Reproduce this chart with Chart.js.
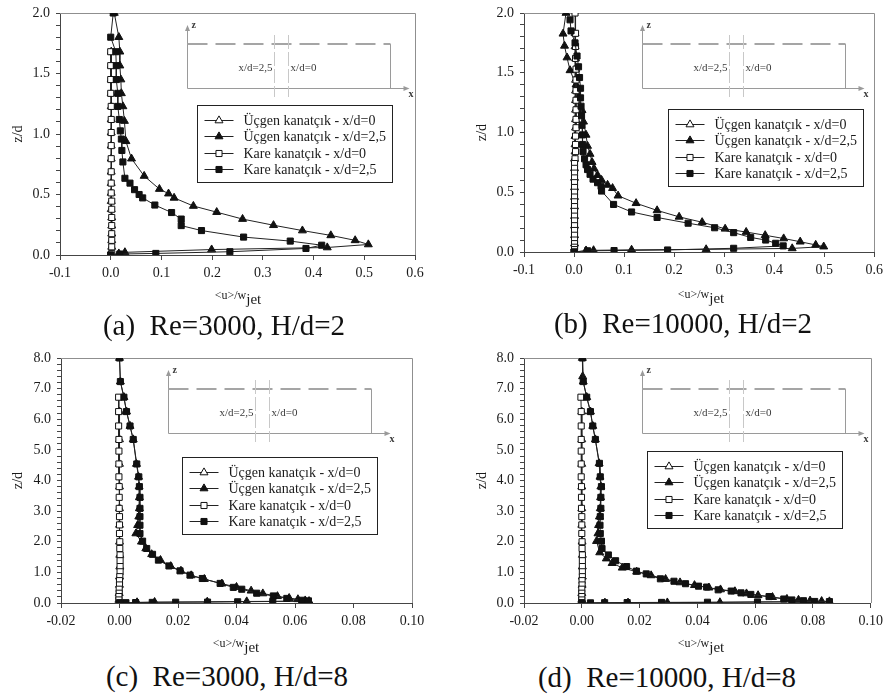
<!DOCTYPE html>
<html><head><meta charset="utf-8">
<script src="https://cdn.jsdelivr.net/npm/chart.js@4.4.1/dist/chart.umd.min.js"></script>
<style>
html,body{margin:0;padding:0;background:#fff;}
body{width:889px;height:695px;position:relative;overflow:hidden;font-family:"Liberation Serif","Times New Roman",serif;}
canvas{position:absolute;}
.cap{position:absolute;font-size:29px;color:#111;white-space:pre;transform:translateX(-50%);line-height:1;}
.xt{position:absolute;font-size:12px;color:#1a1a1a;transform:translateX(-50%);white-space:nowrap;line-height:16px;}
.xt sub{font-size:15px;vertical-align:-5px;line-height:0;}
</style></head><body>
<canvas id="ca" width="440" height="290" style="left:0;top:0"></canvas>
<canvas id="cb" width="449" height="290" style="left:440px;top:0"></canvas>
<canvas id="cc" width="440" height="300" style="left:0;top:340px"></canvas>
<canvas id="cd" width="449" height="300" style="left:440px;top:340px"></canvas>
<div class="xt" style="left:238px;top:287px">&lt;u&gt;/w<sub>jet</sub></div>
<div class="xt" style="left:701px;top:286px">&lt;u&gt;/w<sub>jet</sub></div>
<div class="xt" style="left:236px;top:635px">&lt;u&gt;/w<sub>jet</sub></div>
<div class="xt" style="left:701px;top:635px">&lt;u&gt;/w<sub>jet</sub></div>
<div class="cap" id="capa" style="left:224px;top:311px"></div>
<div class="cap" id="capb" style="left:683px;top:309px"></div>
<div class="cap" id="capc" style="left:227px;top:662px"></div>
<div class="cap" id="capd" style="left:667px;top:663px"></div>
<script>
// ---------- labels ----------
const seriesNames = ['Üçgen kanatçık - x/d=0','Üçgen kanatçık - x/d=2,5','Kare kanatçık - x/d=0','Kare kanatçık - x/d=2,5'];
const captions = ['(a)  Re=3000, H/d=2','(b)  Re=10000, H/d=2','(c)  Re=3000, H/d=8','(d)  Re=10000, H/d=8'];
const xTitle = '<u>/wjet';
const yTitle = 'z/d';
const abXTickLabels = ['-0.1','0.0','0.1','0.2','0.3','0.4','0.5','0.6'];
const abYTickLabels = ['0.0','0.5','1.0','1.5','2.0'];
const cdXTickLabels = ['-0.02','0.00','0.02','0.04','0.06','0.08','0.10'];
const cdYTickLabels = ['0.0','1.0','2.0','3.0','4.0','5.0','6.0','7.0','8.0'];

// ---------- data: [u/wjet, z/d] ----------
// (a) Re=3000, H/d=2
const aTri0 = [[0.001,1.68],[0.001,1.565],[0.001,1.45],[0.001,1.336],[0.001,1.228],[0.001,1.12],[0.001,1.012],[0.001,0.904],[0.001,0.796],[0.001,0.688],[0.001,0.594],[0.001,0.513],[0.001,0.445],[0.001,0.378],[0.002,0.31],[0.002,0.243],[0.002,0.176],[0.002,0.121],[0.002,0.067],[0.001,0.013],[0.0,0.0]];
const aTri25 = [[0.007,2.0],[0.016,1.80],[0.018,1.68],[0.018,1.565],[0.020,1.45],[0.021,1.336],[0.024,1.228],[0.027,1.107],[0.030,0.94],[0.041,0.796],[0.066,0.653],[0.096,0.545],[0.114,0.507],[0.125,0.472],[0.163,0.405],[0.209,0.354],[0.260,0.297],[0.321,0.246],[0.378,0.202],[0.434,0.162],[0.482,0.121],[0.508,0.087],[0.427,0.062],[0.199,0.045],[0.028,0.022],[0.016,0.012],[0.0,0.0]];
const aSq0 = [[0.0,1.68],[0.0,1.565],[0.0,1.45],[0.0,1.336],[0.001,1.228],[0.001,1.12],[0.001,1.012],[0.001,0.904],[0.001,0.796],[0.001,0.688],[0.001,0.594],[0.001,0.513],[0.002,0.445],[0.002,0.378],[0.002,0.31],[0.002,0.243],[0.002,0.176],[0.002,0.121],[0.002,0.067],[0.002,0.013],[0.0,0.0]];
const aSq25 = [[0.005,2.0],[0.0,1.80],[0.010,1.68],[0.011,1.565],[0.011,1.45],[0.014,1.336],[0.014,1.228],[0.017,1.12],[0.019,1.026],[0.021,0.958],[0.022,0.864],[0.024,0.769],[0.028,0.634],[0.038,0.594],[0.047,0.540],[0.056,0.50],[0.063,0.472],[0.087,0.413],[0.120,0.351],[0.139,0.297],[0.139,0.243],[0.179,0.202],[0.262,0.148],[0.354,0.115],[0.416,0.081],[0.385,0.054],[0.235,0.027],[0.089,0.013],[0.018,0.008],[0.0,0.0]];
// (b) Re=10000, H/d=2
const bTri0 = [[0.002,1.83],[0.002,1.72],[0.003,1.62],[0.003,1.53],[0.003,1.44],[0.003,1.35],[0.003,1.27],[0.003,1.19],[0.003,1.11],[0.003,1.04],[0.002,0.97],[0.002,0.90],[0.002,0.84],[0.001,0.78],[0.001,0.70],[0.001,0.62],[0.001,0.54],[0.001,0.46],[0.001,0.38],[0.001,0.30],[0.001,0.22],[0.001,0.14],[0.001,0.07],[0.0,0.0]];
const bTri25 = [[-0.016,2.0],[-0.022,1.826],[-0.019,1.725],[-0.014,1.627],[-0.008,1.52],[0.004,1.40],[0.010,1.30],[0.016,1.186],[0.019,1.09],[0.024,0.98],[0.027,0.887],[0.032,0.82],[0.036,0.752],[0.040,0.698],[0.047,0.643],[0.055,0.602],[0.067,0.561],[0.077,0.534],[0.088,0.471],[0.124,0.408],[0.166,0.348],[0.210,0.294],[0.256,0.249],[0.302,0.194],[0.344,0.167],[0.382,0.140],[0.419,0.113],[0.452,0.086],[0.483,0.059],[0.499,0.045],[0.436,0.030],[0.264,0.022],[0.115,0.018],[0.039,0.014],[0.024,0.012],[0.0,0.0]];
const bSq0 = [[0.002,2.0],[0.003,1.83],[0.003,1.72],[0.003,1.62],[0.004,1.53],[0.004,1.44],[0.004,1.35],[0.004,1.27],[0.004,1.19],[0.004,1.11],[0.004,1.04],[0.003,0.97],[0.003,0.90],[0.003,0.84],[0.002,0.78],[0.001,0.74],[0.001,0.70],[0.001,0.66],[0.001,0.62],[0.001,0.58],[0.001,0.54],[0.001,0.50],[0.001,0.46],[0.001,0.42],[0.001,0.38],[0.001,0.34],[0.001,0.30],[0.001,0.26],[0.001,0.22],[0.001,0.18],[0.001,0.14],[0.001,0.10],[0.001,0.07],[0.001,0.04],[0.001,0.02],[0.0,0.0]];
const bSq25 = [[-0.008,1.943],[-0.006,1.85],[0.002,1.75],[0.006,1.64],[0.009,1.55],[0.011,1.46],[0.013,1.37],[0.013,1.29],[0.014,1.22],[0.015,1.14],[0.016,1.06],[0.017,0.98],[0.017,0.90],[0.018,0.84],[0.021,0.78],[0.024,0.73],[0.027,0.69],[0.032,0.65],[0.038,0.61],[0.047,0.58],[0.054,0.55],[0.055,0.51],[0.079,0.398],[0.115,0.335],[0.166,0.289],[0.228,0.241],[0.281,0.203],[0.319,0.162],[0.353,0.122],[0.383,0.10],[0.403,0.073],[0.418,0.051],[0.319,0.031],[0.187,0.017],[0.080,0.012],[0.027,0.010],[0.0,0.0]];
// (c) Re=3000, H/d=8
const cTri0 = [[0.0,6.25],[0.0,5.34],[0.0,4.54],[0.0,3.80],[0.0,3.09],[0.0,2.55],[0.0,2.00],[0.0001,1.57],[0.0001,1.19],[0.0,0.86],[0.0,0.59],[-0.0001,0.32],[-0.0002,0.10],[0.0,0.0]];
const cTri25 = [[0.0,8.0],[0.0003,7.23],[0.0015,6.72],[0.0024,6.25],[0.0036,5.78],[0.0047,5.34],[0.0058,4.54],[0.0065,4.12],[0.0067,3.80],[0.0068,3.45],[0.0068,3.09],[0.0066,2.82],[0.0062,2.54],[0.0056,2.27],[0.0075,2.0],[0.009,1.78],[0.011,1.59],[0.014,1.40],[0.0175,1.20],[0.021,1.05],[0.0245,0.90],[0.029,0.78],[0.035,0.63],[0.040,0.52],[0.045,0.40],[0.049,0.31],[0.054,0.22],[0.058,0.16],[0.061,0.12],[0.0635,0.08],[0.0648,0.06],[0.0435,0.05],[0.030,0.04],[0.012,0.03],[0.006,0.02],[0.0,0.0]];
const cSq0 = [[-0.0003,6.72],[-0.0003,6.25],[-0.0003,5.78],[-0.0002,5.34],[-0.0002,4.96],[-0.0002,4.54],[-0.0002,4.12],[-0.0001,3.80],[-0.0001,3.45],[-0.0001,3.09],[0.0,2.82],[0.0,2.55],[0.0,2.27],[0.0001,2.00],[0.0001,1.78],[0.0002,1.57],[0.0002,1.38],[0.0002,1.19],[0.0002,1.02],[0.0001,0.86],[0.0,0.73],[0.0,0.59],[-0.0001,0.45],[-0.0001,0.32],[-0.0002,0.21],[-0.0002,0.10],[0.0,0.01]];
const cSq25 = [[0.0,8.0],[0.0003,7.23],[0.0015,6.72],[0.0024,6.25],[0.0036,5.78],[0.0047,5.34],[0.0059,4.54],[0.0066,4.12],[0.0068,3.80],[0.007,3.45],[0.007,3.09],[0.007,2.82],[0.007,2.54],[0.007,2.27],[0.0079,2.02],[0.0093,1.78],[0.0113,1.59],[0.0133,1.40],[0.0169,1.21],[0.0207,1.05],[0.0241,0.91],[0.0283,0.80],[0.0344,0.64],[0.0389,0.51],[0.0418,0.45],[0.0469,0.32],[0.0526,0.23],[0.0572,0.15],[0.0623,0.09],[0.0646,0.07],[0.0524,0.05],[0.0404,0.04],[0.0301,0.03],[0.0192,0.025],[0.0112,0.02],[0.0055,0.015],[0.0022,0.01],[0.0,0.0]];
// (d) Re=10000, H/d=8
const dTri0 = [[0.0,6.25],[0.0,5.34],[0.0,4.54],[0.0,3.80],[0.0,3.09],[0.0,2.55],[0.0001,2.00],[0.0002,1.57],[0.0002,1.19],[0.0002,0.86],[0.0001,0.59],[0.0,0.32],[0.0,0.10],[0.0,0.0]];
const dTri25 = [[0.0002,8.0],[0.0003,7.4],[0.0005,7.23],[0.0017,6.72],[0.003,6.25],[0.0038,5.78],[0.0047,5.34],[0.006,4.56],[0.0063,4.12],[0.0066,3.80],[0.0065,3.45],[0.0064,3.09],[0.0061,2.82],[0.0058,2.54],[0.0056,2.27],[0.0051,2.02],[0.0062,1.65],[0.0085,1.45],[0.0105,1.30],[0.014,1.15],[0.019,1.02],[0.024,0.90],[0.029,0.78],[0.034,0.67],[0.039,0.58],[0.044,0.50],[0.048,0.44],[0.053,0.38],[0.057,0.31],[0.061,0.25],[0.066,0.19],[0.071,0.13],[0.075,0.10],[0.079,0.075],[0.083,0.06],[0.0857,0.05],[0.0478,0.02],[0.0296,0.015],[0.016,0.01],[0.008,0.008],[0.0,0.0]];
const dSq0 = [[-0.0003,6.72],[-0.0002,6.25],[-0.0002,5.78],[-0.0002,5.34],[-0.0002,4.96],[-0.0002,4.54],[-0.0002,4.12],[-0.0001,3.80],[-0.0001,3.45],[-0.0001,3.09],[0.0,2.82],[0.0,2.55],[0.0,2.27],[0.0001,2.00],[0.0001,1.78],[0.0002,1.57],[0.0002,1.38],[0.0002,1.19],[0.0002,1.02],[0.0002,0.86],[0.0001,0.73],[0.0001,0.59],[0.0,0.45],[0.0,0.32],[0.0,0.21],[0.0,0.10],[0.0,0.01]];
const dSq25 = [[0.0002,8.0],[0.0005,7.23],[0.0017,6.72],[0.003,6.25],[0.0038,5.78],[0.0047,5.34],[0.0061,4.56],[0.0064,4.12],[0.0068,3.80],[0.0066,3.45],[0.0066,3.09],[0.0064,2.82],[0.0063,2.54],[0.0064,2.27],[0.0068,2.02],[0.007,1.78],[0.0092,1.57],[0.0117,1.38],[0.0155,1.19],[0.0189,1.04],[0.0223,0.95],[0.0272,0.79],[0.0319,0.71],[0.0359,0.63],[0.0404,0.55],[0.0432,0.52],[0.0472,0.43],[0.0517,0.39],[0.0551,0.33],[0.0585,0.28],[0.0648,0.21],[0.0699,0.13],[0.0727,0.10],[0.0767,0.075],[0.0806,0.05],[0.0857,0.045],[0.0608,0.035],[0.0435,0.025],[0.0276,0.02],[0.0157,0.015],[0.0079,0.01],[0.003,0.005],[0.0,0.0]];

// ---------- drawing ----------
const FONT = '"Liberation Serif","Times New Roman",serif';
const INK = '#1a1a1a';
const styles = [
  {shape:'triangle', fill:'#ffffff', r:4.6},
  {shape:'triangle', fill:'#111111', r:4.6},
  {shape:'rect', fill:'#ffffff', r:4.3},
  {shape:'rect', fill:'#111111', r:4.3}
];
const drawOrder = [3,2,1,0];

function marker(ctx, shape, x, y, r, fill){
  ctx.beginPath();
  if(shape==='rect'){
    const s = r*Math.SQRT1_2;
    ctx.rect(x-s, y-s, 2*s, 2*s);
  } else {
    const h = r*1.5, w = r*0.866*2;
    ctx.moveTo(x, y-r); ctx.lineTo(x+w/2, y+r/2); ctx.lineTo(x-w/2, y+r/2); ctx.closePath();
  }
  ctx.fillStyle = fill; ctx.fill();
  ctx.lineWidth = 1; ctx.strokeStyle = '#111'; ctx.stroke();
}

function arrowHead(ctx, x, y, dir){
  ctx.beginPath();
  if(dir==='up'){ ctx.moveTo(x,y); ctx.lineTo(x-2.5,y+6); ctx.lineTo(x+2.5,y+6); }
  else { ctx.moveTo(x,y); ctx.lineTo(x-6,y-2.5); ctx.lineTo(x-6,y+2.5); }
  ctx.closePath(); ctx.fill();
}

const decor = {
  id:'decor',
  beforeDatasetsDraw(chart, args, o){
    const ctx = chart.ctx, ca = chart.chartArea;
    ctx.save();
    // top & right frame
    ctx.strokeStyle = '#8f8f8f'; ctx.lineWidth = 1;
    ctx.beginPath();
    ctx.moveTo(ca.left, Math.round(ca.top)+0.5);
    ctx.lineTo(Math.round(ca.right)+0.5, Math.round(ca.top)+0.5);
    ctx.lineTo(Math.round(ca.right)+0.5, ca.bottom);
    ctx.stroke();
    // inset schematic
    const zx = Math.round(ca.left + o.insetX)+0.5, t = Math.round(ca.top);
    ctx.strokeStyle = '#9a9a9a'; ctx.fillStyle = '#9a9a9a'; ctx.lineWidth = 1;
    ctx.beginPath(); ctx.moveTo(zx, t+75.5); ctx.lineTo(zx, t+15); ctx.stroke();
    arrowHead(ctx, zx, t+12, 'up');
    ctx.beginPath(); ctx.moveTo(zx, t+75.5); ctx.lineTo(zx+219, t+75.5); ctx.stroke();
    arrowHead(ctx, zx+222, t+75.5, 'right');
    ctx.beginPath(); ctx.moveTo(zx+203, t+31); ctx.lineTo(zx+203, t+75.5); ctx.stroke();
    ctx.setLineDash([20,8]); ctx.lineWidth = 2; ctx.strokeStyle = '#a5a5a5';
    ctx.beginPath(); ctx.moveTo(zx, t+31); ctx.lineTo(zx+203, t+31); ctx.stroke();
    ctx.setLineDash([14,3]); ctx.lineWidth = 1; ctx.strokeStyle = '#c8c8c8';
    ctx.beginPath(); ctx.moveTo(zx+87, t+22); ctx.lineTo(zx+87, t+84);
    ctx.moveTo(zx+101, t+22); ctx.lineTo(zx+101, t+84); ctx.stroke();
    ctx.setLineDash([]);
    ctx.fillStyle = '#3a3a3a';
    ctx.font = '11px ' + FONT; ctx.textBaseline = 'middle'; ctx.textAlign = 'center';
    ctx.fillText('x/d=2,5', zx+68, t+55);
    ctx.fillText('x/d=0', zx+116, t+55);
    ctx.font = 'bold 10px ' + FONT; ctx.textAlign = 'left';
    ctx.fillText('z', zx+4, t+12);
    ctx.fillText('x', zx+221, t+81);
    ctx.restore();
  },
  afterDatasetsDraw(chart, args, o){
    const ctx = chart.ctx, ca = chart.chartArea;
    const bx = Math.round(ca.left + o.legendX)+0.5, by = Math.round(ca.top + o.legendY)+0.5;
    const W = 195, H = 77;
    ctx.save();
    ctx.fillStyle = '#fff'; ctx.fillRect(bx, by, W, H);
    ctx.strokeStyle = '#222'; ctx.lineWidth = 1; ctx.strokeRect(bx, by, W, H);
    ctx.font = '14px ' + FONT; ctx.textBaseline = 'middle'; ctx.textAlign = 'left';
    chart.data.datasets.forEach((ds, i) => {
      const y = Math.round(by + 14 + i*16.6);
      ctx.strokeStyle = '#222'; ctx.lineWidth = 1;
      ctx.beginPath(); ctx.moveTo(bx+7, y+0.5); ctx.lineTo(bx+36, y+0.5); ctx.stroke();
      const st = styles[i];
      marker(ctx, st.shape, bx+21.5, y+0.5, st.r, st.fill);
      ctx.fillStyle = INK;
      ctx.fillText(ds.label, bx+46, y+1);
    });
    ctx.restore();
  }
};

function labelFor(list, value, tol){
  const hit = list.find(s => Math.abs(parseFloat(s) - value) < tol);
  return hit === undefined ? '' : hit;
}

function build(id, series, p){
  const datasets = series.map((arr, i) => ({
    label: seriesNames[i],
    data: arr.map(([u, z]) => ({x: u, y: z})),
    showLine: true,
    borderColor: '#222',
    borderWidth: 1,
    pointStyle: styles[i].shape,
    pointRadius: styles[i].r,
    pointBackgroundColor: styles[i].fill,
    pointBorderColor: '#111',
    pointBorderWidth: 1,
    tension: 0,
    order: drawOrder[i]
  }));
  return new Chart(document.getElementById(id), {
    type: 'scatter',
    data: {datasets},
    options: {
      responsive: false, animation: false, devicePixelRatio: 1,
      events: [],
      layout: {padding: {left: 0, top: p.padTop, right: p.padRight, bottom: 0}},
      plugins: {legend: {display: false}, tooltip: {enabled: false},
        decor: {insetX: p.insetX, legendX: p.legendX, legendY: p.legendY}},
      scales: {
        x: {
          type: 'linear', min: p.xMin, max: p.xMax,
          afterFit: s => { s.height = p.xH; },
          border: {display: true, color: '#454545', width: 1},
          grid: {drawOnChartArea: false, drawTicks: true, tickLength: 5, tickColor: '#454545'},
          ticks: {stepSize: p.xStep, maxTicksLimit: 200, autoSkip: false, maxRotation: 0, padding: 6,
            color: INK, font: {family: FONT, size: 14, lineHeight: 1},
            callback: v => labelFor(p.xLabels, v, p.xStep/100)}
        },
        y: {
          type: 'linear', min: 0, max: p.yMax,
          afterFit: s => { s.width = p.yW; },
          border: {display: true, color: '#454545', width: 1},
          grid: {drawOnChartArea: false, drawTicks: true, tickLength: 4, tickColor: '#454545'},
          title: {display: true, text: yTitle, color: INK, font: {family: FONT, size: 14}, padding: {top: p.yTitlePad, bottom: 0}},
          ticks: {stepSize: p.yStep, maxTicksLimit: 200, autoSkip: false, padding: 6,
            color: INK, font: {family: FONT, size: 14, lineHeight: 1},
            callback: v => labelFor(p.yLabels, v, p.yStep/100)}
        }
      }
    },
    plugins: [decor]
  });
}

build('ca', [aTri0, aTri25, aSq0, aSq25], {padTop:8, padRight:25, yW:60, xH:35, xMin:-0.1, xMax:0.6, xStep:0.1, yMax:2, yStep:0.1,
  xLabels: abXTickLabels, yLabels: abYTickLabels, yTitlePad: 9.6, insetX:127, legendX:137, legendY:92});
build('cb', [bTri0, bTri25, bSq0, bSq25], {padTop:7, padRight:11, yW:84, xH:38, xMin:-0.1, xMax:0.6, xStep:0.1, yMax:2, yStep:0.1,
  xLabels: abXTickLabels, yLabels: abYTickLabels, yTitlePad: 33.6, insetX:118, legendX:144, legendY:96});
build('cc', [cTri0, cTri25, cSq0, cSq25], {padTop:18, padRight:28, yW:61, xH:37, xMin:-0.02, xMax:0.10, xStep:0.02, yMax:8, yStep:0.2,
  xLabels: cdXTickLabels, yLabels: cdYTickLabels, yTitlePad: 9.6, insetX:107, legendX:121, legendY:99});
build('cd', [dTri0, dTri25, dSq0, dSq25], {padTop:18, padRight:12, yW:84, xH:37, xMin:-0.02, xMax:0.10, xStep:0.02, yMax:8, yStep:0.2,
  xLabels: cdXTickLabels, yLabels: cdYTickLabels, yTitlePad: 33.6, insetX:118, legendX:123, legendY:93});

['capa','capb','capc','capd'].forEach((id, i) => { document.getElementById(id).textContent = captions[i]; });
</script>
</body></html>
